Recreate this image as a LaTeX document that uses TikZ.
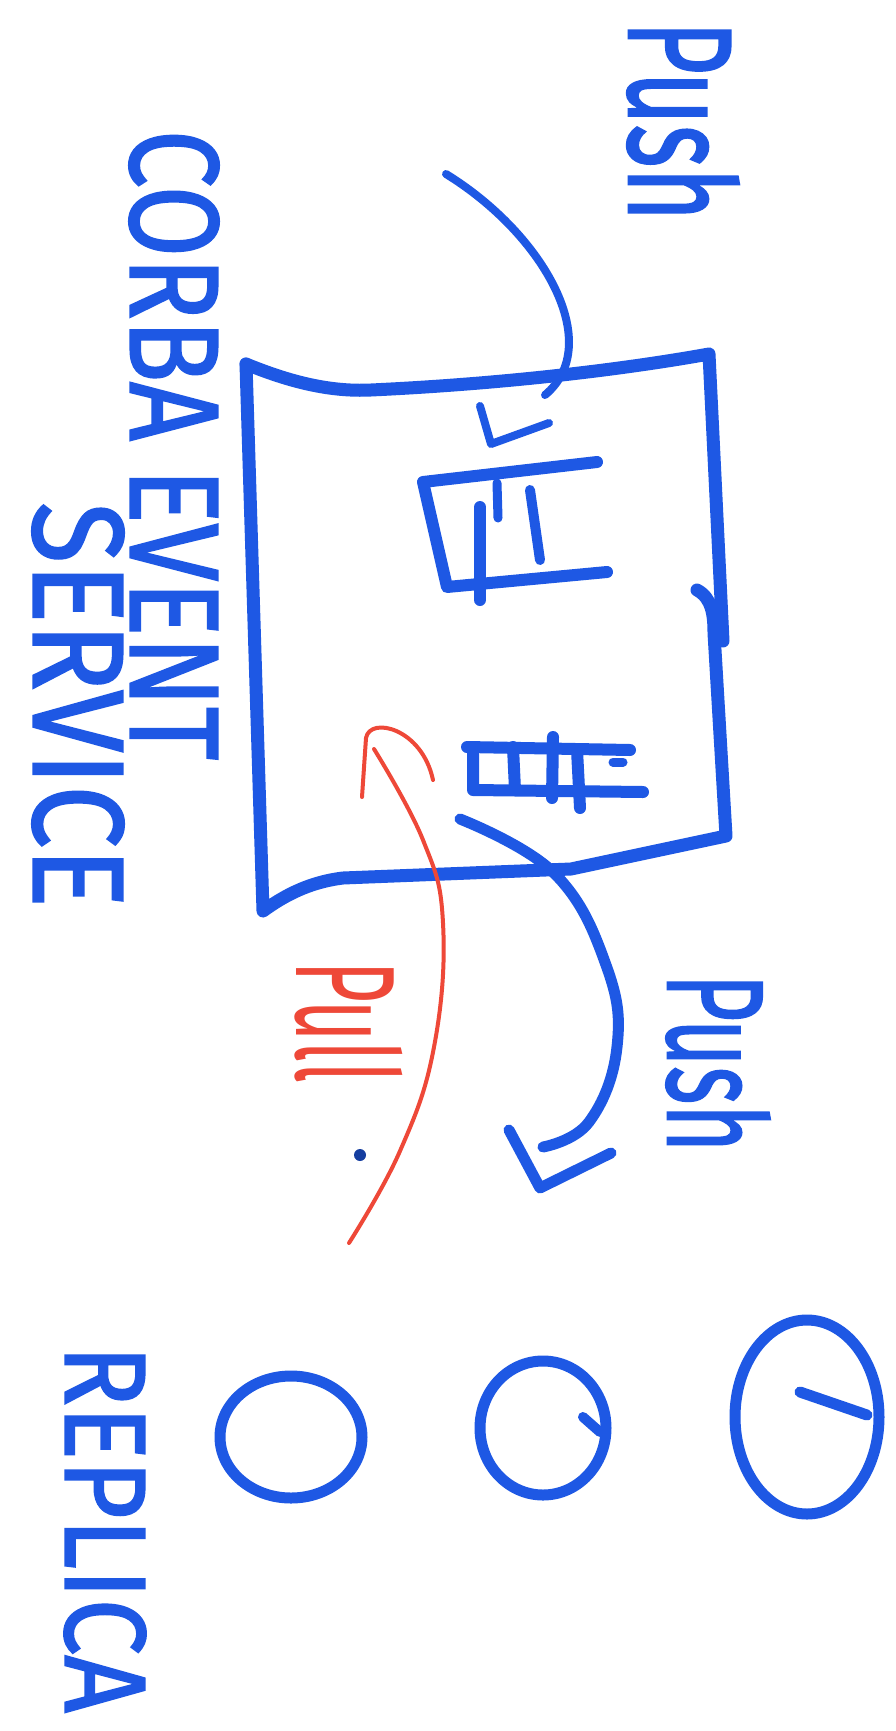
\documentclass[tikz,border=0pt]{standalone}
\usepackage{fontspec}
\setsansfont{Fira Sans}
\usepackage{graphicx}
\usetikzlibrary{shapes.geometric}
\definecolor{mblue}{RGB}{30,88,228}
\definecolor{mred}{RGB}{238,72,56}
\tikzset{
  marker/.style={draw=mblue, line cap=round, line join=round},
  boxline/.style={marker, line width=13pt},
  thinarrow/.style={marker, line width=8pt},
  thickarrow/.style={marker, line width=11pt},
  queueline/.style={marker, line width=12pt},
  redline/.style={draw=mred, line width=4pt, line cap=round, line join=round},
  handtext/.style={inner sep=0pt, outer sep=0pt, text=mblue, font=\sffamily\addfontfeature{FakeBold=1.6}, rotate=-90},
  redtext/.style={inner sep=0pt, outer sep=0pt, text=mred, font=\sffamily, rotate=-90},
  replica/.style={ellipse, marker, line width=11pt, inner sep=0pt},
}
\begin{document}
\begin{tikzpicture}[x=1pt,y=-1pt]
\fill[white] (0,0) rectangle (896,1731);
\useasboundingbox (0,0) rectangle (896,1731);

% texts
\node[handtext] (pushTop) at (683,121) {\resizebox*{200pt}{112pt}{Push}};
\node[handtext] (corba) at (174,445) {\resizebox*{630pt}{90pt}{CORBA EVENT}};
\node[handtext] (service) at (78,705) {\resizebox*{405pt}{92pt}{SERVICE}};
\node[handtext] (pushLow) at (718,1063) {\resizebox*{178pt}{104pt}{Push}};
\node[redtext] (pull) at (349,1022) {\resizebox*{122pt}{108pt}{Pull}};
\node[handtext] (replicaLbl) at (105,1529) {\resizebox*{368pt}{82pt}{REPLICA}};

% event channel box
\coordinate (btl) at (246,364);
\coordinate (btr) at (709,354);
\coordinate (br1) at (723,641);
\coordinate (br2) at (697,590);
\coordinate (bbr) at (726,836);
\coordinate (bbl) at (263,911);
\draw[boxline] (btl) .. controls (290,382) and (330,392) .. (371,390)
   .. controls (500,384) and (620,370) .. (btr) -- (br1);
\draw[boxline] (br2) .. controls (712,598) and (714,615) .. (714,633) -- (bbr)
   -- (571,869) -- (343,878) .. controls (310,882) and (285,895) .. (bbl) -- (btl);

% upper queue
\coordinate (q1a) at (423,482);
\coordinate (q1b) at (597,462);
\coordinate (q1c) at (447,587);
\coordinate (q1d) at (607,572);
\draw[queueline] (q1b) -- (q1a) -- (q1c) -- (q1d);
\draw[queueline] (480,507) -- (480,600);
\draw[queueline, line width=9pt] (497,483) -- (498,518);
\draw[queueline, line width=10pt] (530,490) -- (540,560);

% lower queue
\coordinate (q2a) at (467,747);
\coordinate (q2b) at (630,750);
\coordinate (q2c) at (473,790);
\coordinate (q2d) at (643,792);
\draw[queueline] (q2a) -- (q2b);
\draw[queueline] (473,747) -- (q2c) -- (q2d);
\draw[queueline] (513,747) -- (515,790);
\draw[queueline] (553,737) -- (552,798);
\draw[queueline] (577,750) -- (580,808);
\draw[queueline, line width=9pt] (613,762) -- (623,762);

% top push arrow
\coordinate (pa0) at (446,174);
\coordinate (pa1) at (545,395);
\coordinate (paL) at (480,406);
\coordinate (paT) at (491,444);
\coordinate (paR) at (549,423);
\draw[thinarrow] (pa0) .. controls (545,235) and (605,345) .. (pa1);
\draw[thinarrow] (paL) -- (paT) -- (paR);

% lower push arrow
\coordinate (pb0) at (460,819);
\coordinate (pb1) at (543,1147);
\coordinate (pbL) at (509,1130);
\coordinate (pbT) at (540,1188);
\coordinate (pbR) at (611,1153);
\draw[thickarrow] plot[smooth, tension=0.7] coordinates {(pb0) (554,873) (606,965) (617,1047) (589,1122) (pb1)};
\draw[thickarrow] (pbL) -- (pbT) -- (pbR);

% red pull arrow
\coordinate (rl0) at (349,1243);
\coordinate (rl1) at (374,749);
\draw[redline] plot[smooth, tension=0.7] coordinates {(rl0) (400,1151) (434,1047) (443,923) (423,840) (rl1)};
\coordinate (rhL) at (362,797);
\coordinate (rhT) at (366,738);
\coordinate (rhR) at (433,780);
\draw[redline] (rhL) -- (rhT) .. controls (370,716) and (422,728) .. (rhR);
\fill[mblue!70!black] (360,1155) circle (6pt);

% replicas
\node[replica, minimum width=142pt, minimum height=122pt] (rep1) at (291,1437) {};
\node[replica, minimum width=126pt, minimum height=134pt] (rep2) at (543,1428) {};
\draw[marker, line width=10pt] (583,1417) -- (600,1432);
\node[replica, minimum width=144pt, minimum height=194pt] (rep3) at (807,1417) {};
\draw[marker, line width=11pt] (800,1392) -- (867,1415);
\end{tikzpicture}
\end{document}
